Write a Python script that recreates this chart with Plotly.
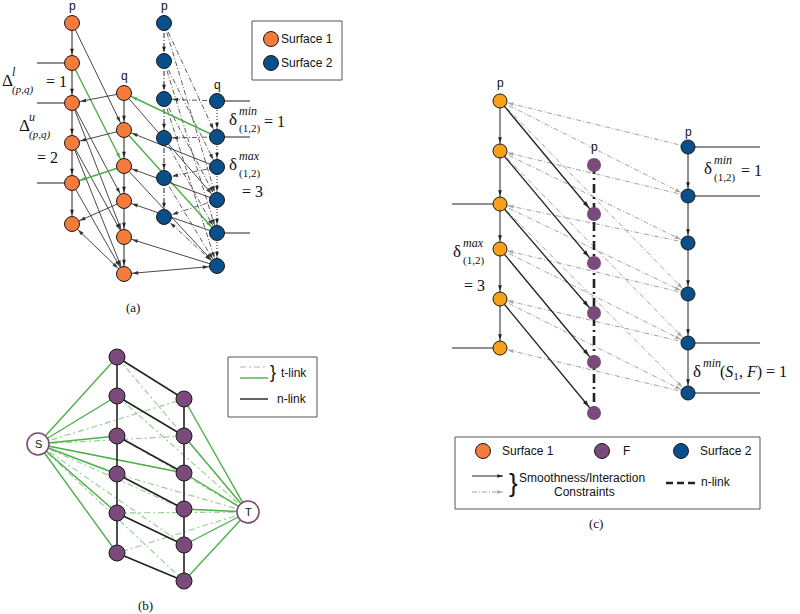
import math
import plotly.graph_objects as go

# ---------------- node columns (panel a) ----------------
a_s1p_x = 72
a_s1p_y = [23, 63, 103, 143, 183, 224]
a_s1q_x = 124
a_s1q_y = [93, 130, 166, 201, 237, 274]
a_s2p_x = 164
a_s2p_y = [23, 61, 99, 138, 178, 217]
a_s2q_x = 217
a_s2q_y = [101, 137, 167, 200, 233, 266]

# edges (source index, target index)
a_s1p_to_s1q = [(0, 1), (1, 2), (2, 3), (3, 4), (4, 5), (2, 4), (3, 5)]
a_s1q_to_s1p = [(0, 2), (1, 3), (2, 4), (3, 5)]
a_s2p_to_s2q = [(0, 1), (0, 3), (1, 2), (1, 4), (2, 3), (2, 5), (3, 4), (4, 5)]
a_s2q_to_s2p = [(0, 2), (1, 3), (2, 4), (3, 5)]
a_s1q_to_s2q = [(0, 3), (1, 4), (2, 5)]
a_s2q_to_s1q = [(1, 0), (2, 1), (3, 2), (4, 3), (5, 4)]
a_green = {("s1p_s1q", 1, 2), ("s1q_s1p", 2, 4), ("s1q_s2q", 1, 4), ("s2q_s1q", 1, 0)}
a_left_stubs = [1, 2, 4]
a_right_stubs = [0, 1, 4]

# ---------------- node columns (panel b) ----------------
b_left_x = 117
b_left_y = [357, 396, 436, 474, 513, 553]
b_right_x = 184
b_right_y = [399, 436, 473, 509, 545, 581]
b_source = (38, 444)
b_sink = (248, 512)
b_extra_s_solid = [2]

# ---------------- node columns (panel c) ----------------
c_s1_x = 500
c_s1_y = [101, 151, 204, 249, 299, 348]
c_f_x = 594
c_f_y = [165, 214, 263, 313, 362, 413]
c_s2_x = 688
c_s2_y = [147, 196, 243, 294, 343, 393]
c_s1_to_f = [(0, 1), (1, 2), (2, 3), (3, 4), (4, 5)]
c_s2_to_s1 = [(0, 0), (1, 1), (2, 2), (3, 3), (4, 4), (5, 5)]
c_s1_to_s2 = [(0, 1), (1, 2), (2, 3), (3, 4), (4, 5), (0, 3), (1, 4), (2, 5)]
c_left_stubs = [2, 5]
c_right_stubs = [0, 1, 4, 5]

# ---------------- styles ----------------
ORANGE_A = "#F47B3C"
ORANGE_C = "#F7A11A"
BLUE = "#0B4F8A"
PURPLE = "#7A4A7A"
GREEN = "#4DAF4A"
LGREEN = "#93CC8F"
GRAY = "#A3A3A3"
INK = "#222222"
SANS = "Liberation Sans, Arial, sans-serif"
SERIF = "Liberation Serif, Times New Roman, serif"

shapes = []
anns = []
heads = {}


def add_head(x, y, ux, uy, color, size):
    key = (color, size)
    heads.setdefault(key, ([], [], []))
    heads[key][0].append(x)
    heads[key][1].append(y)
    heads[key][2].append(math.degrees(math.atan2(ux, -uy)))


def seg(p, q, color=INK, width=1.0, dash="solid", end=False, start=False, r_end=8.5, r_start=8.5, hs=6):
    (x0, y0), (x1, y1) = p, q
    dx, dy = x1 - x0, y1 - y0
    d = math.hypot(dx, dy)
    ux, uy = dx / d, dy / d
    shapes.append(dict(type="line", xref="x", yref="y", x0=x0, y0=y0, x1=x1, y1=y1,
                       line=dict(color=color, width=width, dash=dash), layer="below"))
    if end:
        add_head(x1 - ux * r_end, y1 - uy * r_end, ux, uy, color, hs)
    if start:
        add_head(x0 + ux * r_start, y0 + uy * r_start, -ux, -uy, color, hs)


def text(x, y, s, size=12, family=SANS, xanchor="center", color="#111"):
    anns.append(dict(x=x, y=y, xref="x", yref="y", text=s, showarrow=False,
                     xanchor=xanchor, yanchor="middle",
                     font=dict(family=family, size=size, color=color)))


def mathlabel(x, y, base, sup=None, sub=None, tail=None, tail_x=None, tail_y=None):
    text(x, y, base, 17, SERIF, "left")
    if sup:
        text(x + 10, y - 8, "<i>%s</i>" % sup, 12, SERIF, "left")
    if sub:
        text(x + 10, y + 9, sub, 11, SERIF, "left")
    if tail:
        text(tail_x, tail_y if tail_y is not None else y + 1, tail, 16, SERIF, "left")


def pt(x, ys, i):
    return (x, ys[i])


DD = "5px,2px,1px,2px"
DOT = "1px,2px"

# ================= panel (a) =================
A = (a_s1p_x, a_s1p_y)
B = (a_s1q_x, a_s1q_y)
C = (a_s2p_x, a_s2p_y)
D = (a_s2q_x, a_s2q_y)

for i in range(5):
    seg(pt(*A, i), pt(*A, i + 1), INK, 1, "solid", end=True)
    seg(pt(*B, i), pt(*B, i + 1), INK, 1, "solid", end=True)
    seg(pt(*C, i), pt(*C, i + 1), INK, 1, DD, end=True)
    seg(pt(*D, i), pt(*D, i + 1), INK, 1, DOT, end=True)

for i, j in a_s1p_to_s1q:
    g = ("s1p_s1q", i, j) in a_green
    seg(pt(*A, i), pt(*B, j), GREEN if g else "#333", 1.4 if g else 0.9, end=True)
for i, j in a_s1q_to_s1p:
    g = ("s1q_s1p", i, j) in a_green
    seg(pt(*B, i), pt(*A, j), GREEN if g else "#333", 1.4 if g else 0.9, end=True)
for i, j in a_s2p_to_s2q:
    seg(pt(*C, i), pt(*D, j), "#333", 0.8, DD, end=True)
for i, j in a_s2q_to_s2p:
    seg(pt(*D, i), pt(*C, j), "#333", 0.8, DD, end=True)
for i, j in a_s1q_to_s2q:
    g = ("s1q_s2q", i, j) in a_green
    seg(pt(*B, i), pt(*D, j), GREEN if g else "#333", 1.4 if g else 0.9, end=True)
for i, j in a_s2q_to_s1q:
    g = ("s2q_s1q", i, j) in a_green
    seg(pt(*D, i), pt(*B, j), GREEN if g else "#333", 1.4 if g else 0.9, end=True)

seg(pt(*A, 5), pt(*B, 5), "#333", 0.9, end=True, start=True)
seg(pt(*B, 5), pt(*D, 5), "#333", 0.9, end=True, start=True)
seg(pt(*C, 5), pt(*D, 5), "#333", 0.8, DD, end=True, start=True)

for i in a_left_stubs:
    seg((37, a_s1p_y[i]), pt(*A, i), INK, 1)
for i in a_right_stubs:
    seg(pt(*D, i), (250, a_s2q_y[i]), INK, 1)

text(a_s1p_x, 6, "p", 12)
text(a_s1q_x, 76, "q", 12)
text(a_s2p_x, 6, "p", 12)
text(a_s2q_x, 85, "q", 12)

mathlabel(0, 80, "Δ", "l", "<i>(p,q)</i>", "= 1", 44)
mathlabel(17, 125, "Δ", "u", "<i>(p,q)</i>")
text(35, 157, "= 2", 16, SERIF, "left")
mathlabel(227, 119, "δ", "min", "(1,2)", "= 1", 262, 121)
mathlabel(227, 164, "δ", "max", "(1,2)")
text(240, 191, "= 3", 16, SERIF, "left")

# legend (a)
shapes.append(dict(type="rect", xref="x", yref="y", x0=252, y0=21, x1=342, y1=80,
                   line=dict(color="#555", width=1), fillcolor="white", layer="below"))
text(279, 39, "Surface 1", 12, SANS, "left")
text(279, 63, "Surface 2", 12, SANS, "left")
text(133, 307, "(a)", 13, SERIF)

# ================= panel (b) =================
L = (b_left_x, b_left_y)
R = (b_right_x, b_right_y)
for i in range(6):
    seg(b_source, pt(*R, i), LGREEN, 1.1, "6px,3px,2px,3px")
    seg(b_sink, pt(*L, i), LGREEN, 1.1, "6px,3px,2px,3px")
for i in range(6):
    seg(b_source, pt(*L, i), GREEN, 1.4)
    seg(b_sink, pt(*R, i), GREEN, 1.4)
for i in b_extra_s_solid:
    seg(b_source, pt(*R, i), GREEN, 1.4)
seg(pt(*L, 0), pt(*L, 5), INK, 1.6)
seg(pt(*R, 0), pt(*R, 5), INK, 1.6)
for i in range(6):
    seg(pt(*L, i), pt(*R, i), INK, 1.6)

shapes.append(dict(type="rect", xref="x", yref="y", x0=228, y0=357, x1=317, y1=417,
                   line=dict(color="#555", width=1), fillcolor="white", layer="below"))
shapes.append(dict(type="line", xref="x", yref="y", x0=240, y0=367, x1=268, y1=367,
                   line=dict(color=LGREEN, width=1.2, dash="6px,3px,2px,3px")))
shapes.append(dict(type="line", xref="x", yref="y", x0=240, y0=378, x1=268, y1=378,
                   line=dict(color=GREEN, width=1.4)))
shapes.append(dict(type="line", xref="x", yref="y", x0=240, y0=399, x1=268, y1=399,
                   line=dict(color=INK, width=1.4)))
text(273, 372, "}", 18, SANS, "center")
text(279, 373, "t-link", 12, SANS, "left")
text(275, 399, "n-link", 12, SANS, "left")
text(145, 605, "(b)", 13, SERIF)

# ================= panel (c) =================
O = (c_s1_x, c_s1_y)
F = (c_f_x, c_f_y)
S2 = (c_s2_x, c_s2_y)
for i, j in c_s2_to_s1:
    seg(pt(*S2, i), pt(*O, j), GRAY, 1, DD, end=True, r_end=8, hs=6)
for i, j in c_s1_to_s2:
    seg(pt(*O, i), pt(*S2, j), GRAY, 1, DD, end=True, r_end=8, hs=6)
seg(pt(*F, 0), pt(*F, 5), INK, 2.6, "9px,4px,2px,4px")
for i in range(5):
    seg(pt(*O, i), pt(*O, i + 1), INK, 1, end=True, r_end=8)
    seg(pt(*S2, i), pt(*S2, i + 1), INK, 1, end=True, r_end=8)
for i, j in c_s1_to_f:
    seg(pt(*O, i), pt(*F, j), INK, 1.3, end=True, r_end=8, hs=7)
for i in c_left_stubs:
    seg((452, c_s1_y[i]), pt(*O, i), INK, 1.2)
for i in c_right_stubs:
    seg(pt(*S2, i), (760, c_s2_y[i]), INK, 1.2)

text(c_s1_x, 83, "p", 12)
text(c_f_x, 147, "p", 12)
text(c_s2_x, 132, "p", 12)
mathlabel(702, 168, "δ", "min", "(1,2)", "= 1", 739, 170)
mathlabel(451, 251, "δ", "max", "(1,2)")
text(462, 285, "= 3", 16, SERIF, "left")
mathlabel(691, 371, "δ", "min", None, "(<i>S</i><sub>1</sub>, <i>F</i>) = 1", 718, 372)

shapes.append(dict(type="rect", xref="x", yref="y", x0=455, y0=437, x1=760, y1=509,
                   line=dict(color="#555", width=1), fillcolor="white", layer="below"))
seg((472, 476), (503, 476), INK, 1, end=True, r_end=0, hs=6)
seg((472, 492), (503, 492), GRAY, 1, DD, end=True, r_end=0, hs=6)
text(513, 483, "}", 26, SANS, "center")
text(582, 478, "Smoothness/Interaction", 12, SANS)
text(584, 492, "Constraints", 12, SANS)
shapes.append(dict(type="line", xref="x", yref="y", x0=666, y0=483, x1=697, y1=483,
                   line=dict(color=INK, width=2.6, dash="7px,4px")))
text(699, 482, "n-link", 12, SANS, "left")
text(500, 451, "Surface 1", 12, SANS, "left")
text(621, 451, "F", 12, SANS, "left")
text(698, 451, "Surface 2", 12, SANS, "left")
text(596, 523, "(c)", 13, SERIF)

# ================= traces =================
fig = go.Figure()
for (color, size), (xs, ys, ang) in heads.items():
    fig.add_trace(go.Scatter(x=xs, y=ys, mode="markers", hoverinfo="skip",
                             marker=dict(symbol="arrow", size=size, color=color, angle=ang,
                                         line=dict(width=0))))


def nodes(xs, ys, color, size, lw=1, lc="#1a1a1a"):
    fig.add_trace(go.Scatter(x=xs, y=ys, mode="markers", hoverinfo="skip",
                             marker=dict(size=size, color=color, line=dict(width=lw, color=lc))))


nodes([a_s1p_x] * 6, a_s1p_y, ORANGE_A, 15)
nodes([a_s1q_x] * 6, a_s1q_y, ORANGE_A, 15)
nodes([a_s2p_x] * 6, a_s2p_y, BLUE, 15)
nodes([a_s2q_x] * 6, a_s2q_y, BLUE, 15)
nodes([271, 271], [39, 63], [ORANGE_A, BLUE], 15)
nodes([b_left_x] * 6, b_left_y, PURPLE, 16)
nodes([b_right_x] * 6, b_right_y, PURPLE, 16)
nodes([b_source[0], b_sink[0]], [b_source[1], b_sink[1]], "white", 22, 1.6, PURPLE)
text(b_source[0], b_source[1], "S", 11)
text(b_sink[0], b_sink[1], "T", 11)
nodes([c_s1_x] * 6, c_s1_y, ORANGE_C, 14)
nodes([c_f_x] * 6, c_f_y, PURPLE, 14, 0)
nodes([c_s2_x] * 6, c_s2_y, BLUE, 14)
nodes([483, 602, 681], [451, 451, 451], [ORANGE_A, PURPLE, BLUE], 15)

fig.update_layout(
    width=800, height=614, margin=dict(l=0, r=0, t=0, b=0),
    paper_bgcolor="white", plot_bgcolor="white", showlegend=False,
    xaxis=dict(range=[0, 800], visible=False, fixedrange=True),
    yaxis=dict(range=[614, 0], visible=False, fixedrange=True),
    shapes=shapes, annotations=anns,
)
fig.write_html("out.html", config={"displayModeBar": False},
               post_script="document.body.style.margin='0';document.body.style.overflow='hidden';")
